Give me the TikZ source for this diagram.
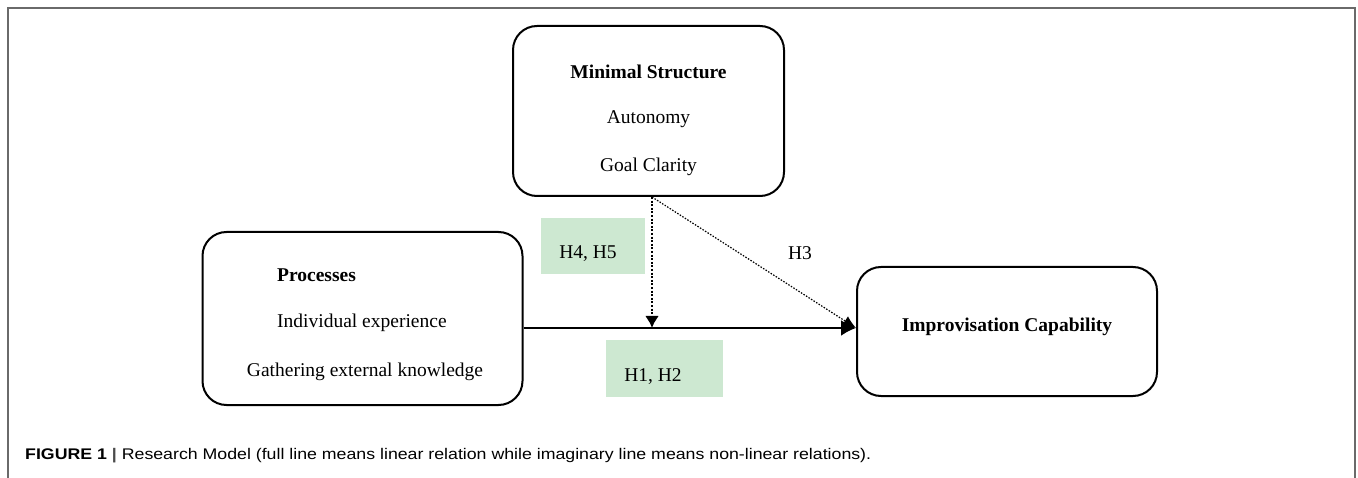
\documentclass[tikz,border=0pt]{standalone}
\usepackage{fontspec}
\setmainfont{Liberation Serif}
\newfontfamily\capfont{Liberation Sans}
\usetikzlibrary{arrows.meta}
\definecolor{hgreen}{HTML}{CDE8D1}
\definecolor{framegray}{HTML}{6A6A6A}
\tikzset{
  box/.style={draw=black, line width=2pt, rounded corners=24pt, inner sep=0pt},
  txt/.style={font=\fontsize{19.5}{22}\selectfont, inner sep=0pt},
  btxt/.style={font=\fontsize{19.5}{22}\selectfont\bfseries, inner sep=0pt},
  hbox/.style={fill=hgreen, draw=none, inner sep=0pt},
  solidarrow/.style={line width=2pt, -{Latex[length=15pt,width=16pt]}},
  dotarrow/.style={line width=2.4pt, dash pattern=on 2pt off 1.6pt, -{Latex[length=12pt,width=14pt]}},
  thinarrow/.style={line width=1.2pt, dash pattern=on 1.5pt off 1.5pt, -{Latex[length=13pt,width=11pt]}},
}
\begin{document}
\begin{tikzpicture}[x=1pt,y=-1pt]
\useasboundingbox (0,0) rectangle (1358,478);
% frame
\draw[framegray, line width=2pt] (8,478) -- (8,8) -- (1355,8) -- (1355,478);
% boxes
\node[box, minimum width=271pt, minimum height=170pt] (ms) at (648.5,111) {};
\node[box, minimum width=320pt, minimum height=173pt] (proc) at (362.5,318.5) {};
\node[box, minimum width=300pt, minimum height=129pt] (imp) at (1007,331.5) {};
% texts
\node[btxt] (mst) at (648.5,72) {Minimal Structure};
\node[txt] (aut) at (648.5,119) {Autonomy};
\node[txt] (gc) at (648.5,167) {Goal Clarity};
\node[btxt, anchor=west] (pt) at (277,275) {Processes};
\node[txt, anchor=west] (ie) at (277,323) {Individual experience};
\node[txt] (gek) at (365,372) {Gathering external knowledge};
\node[btxt] (ict) at (1007,327) {Improvisation Capability};
% hypothesis boxes
\node[hbox, minimum width=104pt, minimum height=56pt] (h45) at (593,246) {};
\node[txt] at (588,254) {H4, H5};
\node[hbox, minimum width=117pt, minimum height=57pt] (h12) at (664.5,368.5) {};
\node[txt] at (653,377) {H1, H2};
\node[txt] (h3) at (800,253) {H3};
% connectors
\coordinate (mid) at (652,328);
\coordinate (top) at (652,197);
\draw[solidarrow] (proc.east |- mid) -- (imp.west |- mid);
\draw[dotarrow] (top) -- (mid);
\draw[thinarrow] (top) -- (imp.west |- mid);
% caption
\node[anchor=base west, inner sep=0pt, font=\capfont\fontsize{15.4}{18}\selectfont] (cap) at (25,459)
  {\resizebox{846pt}{\height}{\textbf{FIGURE 1} {\color{framegray!70!black}\textbf{|}} Research Model (full line means linear relation while imaginary line means non-linear relations).}};
\end{tikzpicture}
\end{document}
